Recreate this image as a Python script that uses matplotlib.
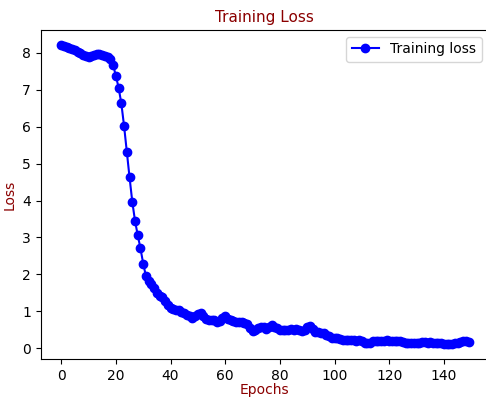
import numpy as np
import matplotlib
matplotlib.use('Agg')
import matplotlib.pyplot as plt

#loss values read per epoch
loss = [8.22, 8.19, 8.16, 8.13, 8.10, 8.07, 8.03, 7.99, 7.95, 7.91,
        7.88, 7.91, 7.95, 7.97, 7.96, 7.94, 7.92, 7.89, 7.84, 7.67,
        7.38, 7.06, 6.63, 6.02, 5.32, 4.63, 3.97, 3.45, 3.06, 2.70,
        2.29, 1.95, 1.83, 1.75, 1.62, 1.48, 1.42, 1.38, 1.28, 1.18,
        1.10, 1.05, 1.03, 1.02, 0.98, 0.94, 0.90, 0.86, 0.82, 0.86,
        0.93, 0.95, 0.88, 0.80, 0.77, 0.75, 0.76, 0.72, 0.74, 0.82,
        0.86, 0.80, 0.76, 0.74, 0.72, 0.72, 0.70, 0.68, 0.66, 0.55,
        0.46, 0.48, 0.55, 0.58, 0.57, 0.52, 0.58, 0.62, 0.58, 0.54,
        0.50, 0.48, 0.49, 0.50, 0.51, 0.50, 0.52, 0.50, 0.47, 0.50,
        0.58, 0.60, 0.52, 0.45, 0.44, 0.42, 0.40, 0.36, 0.32, 0.28,
        0.27, 0.28, 0.26, 0.23, 0.22, 0.21, 0.22, 0.21, 0.20, 0.21,
        0.19, 0.15, 0.13, 0.15, 0.18, 0.20, 0.20, 0.19, 0.20, 0.21,
        0.19, 0.20, 0.19, 0.20, 0.18, 0.16, 0.14, 0.13, 0.14, 0.15,
        0.14, 0.15, 0.17, 0.16, 0.15, 0.16, 0.15, 0.14, 0.15, 0.13,
        0.12, 0.11, 0.10, 0.11, 0.14, 0.15, 0.16, 0.18, 0.19, 0.17]
epochs = np.arange(len(loss))

fig = plt.figure(figsize=(4.86, 3.98), dpi=100)
ax = fig.add_axes([0.084, 0.097, 0.922, 0.828])
ax.plot(epochs, loss, 'bo-', markersize=6, label='Training loss')
ax.set_title('Training Loss', color='darkred', fontsize=11)
ax.set_xlabel('Epochs', color='darkred', labelpad=0)
ax.set_ylabel('Loss', color='darkred')
ax.set_xticks(range(0, 141, 20))
ax.legend(loc='upper right')
fig.savefig('out.png', dpi=100)
